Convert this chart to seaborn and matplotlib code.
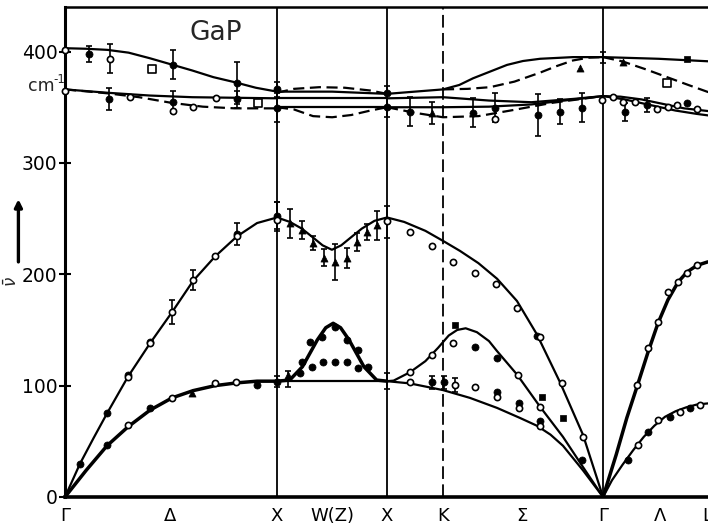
"""
GaP phonon dispersion: theory curves and neutron data along G-X-W-X-K-G-L.
"""

import matplotlib
matplotlib.use("Agg")
import matplotlib.pyplot as plt
import pandas as pd
import seaborn as sns

# --- path / axis labels (k in units of the G-X length) ---
TICK_K = [0.0, 0.495, 1.0, 1.259, 1.519, 1.783, 2.156, 2.538, 2.807, 3.028]
TICK_LABELS = ["Γ", "Δ", "X", "W(Z)", "X", "K", "Σ", "Γ", "Λ", "L"]
VLINE_K = [1.0, 1.519, 1.783, 2.538]
VLINE_DASHED = [False, False, True, False]
Y_TICKS = [0, 100, 200, 300, 400]
Y_LABELS = ["0", "100", "200", "300", "400"]

# --- optical branches ---
LO_GX_K = [0, 0.1, 0.2, 0.3, 0.4, 0.5, 0.6, 0.7, 0.8, 0.9, 1.0]
LO_GX_V = [403, 402.5, 401.5, 399, 394, 388.5, 383, 377, 372.5, 367.5, 364]
TO_GX_K = [0, 0.2, 0.4, 0.6, 0.8, 1.0]
TO_GX_V = [366, 363, 360.5, 359, 358.5, 358]
TOD_GX_K = [0, 0.2, 0.35, 0.5, 0.65, 0.8, 1.0]
TOD_GX_V = [366, 362.5, 359, 354, 350.5, 349, 349]

LO_XW_K = [1.0, 1.26, 1.519]
LO_XW_V = [364, 364, 362]
TO_XW_K = [1.0, 1.519]
TO_XW_V = [358, 358]
TO2_XW_K = [1.0, 1.519]
TO2_XW_V = [350, 350]
DUP_XW_K = [1.0, 1.08, 1.2, 1.32, 1.44, 1.519]
DUP_XW_V = [363, 366.5, 368, 367.5, 365, 362]
DLO_XW_K = [1.0, 1.08, 1.17, 1.26, 1.35, 1.44, 1.519]
DLO_XW_V = [350, 348, 342, 341, 343, 347, 350]

LO_XG_K = [1.519, 1.65, 1.783, 1.86, 1.925, 2.005, 2.085, 2.16, 2.241, 2.396, 2.538]
LO_XG_V = [362, 364, 366, 370, 376, 382, 388, 391.5, 393.5, 395, 395]
LOD_XG_K = [1.783, 1.9, 2.005, 2.12, 2.24, 2.32, 2.396, 2.47, 2.538]
LOD_XG_V = [366, 366.5, 368, 373, 381, 387, 392, 394.5, 395]
TOA_XG_K = [1.519, 1.783, 2.0, 2.2, 2.4, 2.538]
TOA_XG_V = [358, 359, 356, 354.5, 357.5, 360]
TOB_XG_K = [1.519, 1.783, 2.0, 2.2, 2.4, 2.538]
TOB_XG_V = [350, 350, 350.5, 352.5, 357, 360]
TOD_XG_K = [1.519, 1.65, 1.783, 1.95, 2.1, 2.3, 2.538]
TOD_XG_V = [350, 345, 341, 342, 347, 354, 360]

LO_GL_K = [2.538, 2.8, 3.06]
LO_GL_V = [395, 393.5, 391]
LOD_GL_K = [2.538, 2.632, 2.74, 2.84, 2.94, 3.028, 3.06]
LOD_GL_V = [395, 391, 384, 377, 370, 364, 362]
TOA_GL_K = [2.538, 2.62, 2.72, 2.82, 2.92, 3.06]
TOA_GL_V = [360, 359.5, 357, 353, 349, 346]
TOB_GL_K = [2.538, 2.64, 2.76, 2.88, 2.98, 3.06]
TOB_GL_V = [360, 357, 352, 347, 344, 342]

# --- acoustic branches ---
LA_GX_K = [0, 0.071, 0.135, 0.198, 0.297, 0.401, 0.505, 0.604, 0.708, 0.811, 0.906, 1.0]
LA_GX_V = [0, 30, 53, 75, 108, 138, 166, 194, 216, 234, 246, 251]
TA_GX_K = [0, 0.1, 0.198, 0.297, 0.401, 0.505, 0.604, 0.708, 0.811, 0.906, 1.0]
TA_GX_V = [0, 24, 46, 63, 78, 89, 95.5, 100, 102.5, 104, 104]

LA_XW_K = [1.0, 1.061, 1.117, 1.17, 1.215, 1.259, 1.303, 1.348, 1.40, 1.46, 1.519]
LA_XW_V = [251, 247, 241, 233, 226, 222, 226, 233, 241, 248, 251]
BUMP_XW_K = [1.0, 1.06, 1.12, 1.19, 1.23, 1.265, 1.30, 1.34, 1.41, 1.47, 1.519]
BUMP_XW_V = [104, 105, 117, 141, 152, 156, 152, 141, 117, 105, 104]
FLAT_XW_K = [1.0, 1.519]
FLAT_XW_V = [104, 104]

LA_XG_K = [1.519, 1.6, 1.7, 1.783, 1.863, 1.95, 2.038, 2.132, 2.226, 2.335, 2.443, 2.538]
LA_XG_V = [251, 247, 239, 230, 221, 210, 196, 176, 146, 103, 56, 0]
MID_XG_K = [1.519, 1.55, 1.627, 1.70, 1.76, 1.81, 1.85, 1.89, 1.943, 2.0, 2.038,
            2.132, 2.241, 2.349, 2.443, 2.538]
MID_XG_V = [104, 104.5, 112, 122, 134, 145, 150, 151.5, 148, 140, 131,
            110, 81, 54, 27, 0]
TA_XG_K = [1.519, 1.627, 1.783, 1.910, 2.038, 2.146, 2.226, 2.29, 2.349, 2.443, 2.538]
TA_XG_V = [104, 102, 96, 89, 80, 71, 64, 56, 46, 24, 0]

LA_GL_K = [2.538, 2.60, 2.65, 2.698, 2.75, 2.797, 2.844, 2.892, 2.934, 2.981, 3.03, 3.06]
LA_GL_V = [0, 38, 71, 99, 130, 156, 177, 193, 202, 208, 211, 212]
TA_GL_K = [2.538, 2.58, 2.63, 2.68, 2.73, 2.78, 2.83, 2.88, 2.93, 2.98, 3.03, 3.06]
TA_GL_V = [0, 15, 29, 42, 54, 64, 72, 77, 80.5, 83, 84, 84.5]

# --- measured points ---
OPEN_K = [0, 0.212, 0, 0.307, 0.509, 0.604, 0.712,
          0.297, 0.401, 0.505, 0.604, 0.708, 0.811, 1.0,
          0.297, 0.505, 0.708, 0.805, 1.519,
          1.627, 1.731, 1.830, 1.934, 2.033, 2.132, 2.241, 2.344, 2.443,
          1.830, 1.731, 1.627, 2.137, 2.241, 2.241, 1.627,
          1.840, 1.934, 2.038, 2.142,
          2.028, 2.533, 2.585, 2.632, 2.689, 2.792, 2.844, 2.887, 2.981,
          2.698, 2.75, 2.797, 2.844, 2.892, 2.934, 2.981,
          2.703, 2.797, 2.901, 2.995]
OPEN_V = [401, 393.5, 365, 359.4, 347, 350, 358.5,
          108, 138, 166, 195, 216, 234, 249,
          65, 89, 102, 103, 248,
          238, 225, 211, 201, 191, 170, 144, 102, 54,
          138, 127.6, 112, 110, 81, 64, 103.5,
          100.6, 99, 90, 80,
          339, 356.7, 359, 355, 355, 348.6, 350.5, 352, 348,
          100.6, 134, 157, 184, 193, 201, 208.4,
          46.7, 69, 76, 82.6]

FILLED_K = [0.113, 0.509, 0.811, 1.0, 0.208, 0.509, 0.811, 1.0,
            0.071, 0.198, 0.297, 0.401, 0.811, 1.0,
            0.198, 0.401, 0.906, 1.0,
            1.108, 1.165, 1.217, 1.274, 1.330, 1.382,
            1.118, 1.156, 1.212, 1.274, 1.330, 1.382, 1.429,
            1.934, 2.038, 2.241, 1.731, 1.788, 2.038, 2.142, 2.226, 2.439,
            1.627, 1.925, 2.028, 2.231, 2.335, 2.439, 1.519, 1.519,
            2.642, 2.745, 2.934,
            2.656, 2.75, 2.854, 2.948]
FILLED_V = [398, 388, 372, 366, 357.5, 355, 357, 349.5,
            30, 75, 110, 139, 236, 252,
            46.7, 80, 100.6, 103,
            111, 117, 121, 121, 121, 116,
            121, 139, 144, 153, 141, 132, 117,
            135, 125, 68, 103, 103, 94, 84, 145, 33,
            346, 345, 349.5, 343, 346, 349.5, 350, 363,
            346, 352, 354,
            33, 58, 72, 80]

OPEN_SQ_K = [0.41, 0.91, 2.84]
OPEN_SQ_V = [384, 354, 372]
FILLED_SQ_K = [1.840, 2.250, 2.349, 2.934]
FILLED_SQ_V = [154.5, 90, 71, 393.5]
TRI_K = [0.599, 1.052, 1.061, 1.117, 1.170, 1.222, 1.274, 1.33, 1.377,
         1.425, 1.472, 2.429, 2.632, 1.731]
TRI_V = [93.4, 110, 246, 240, 228, 215, 211, 215, 229,
         238, 244, 385, 391, 345]

ERR_K = [0.113, 0.212, 0.509, 0.811, 1.0, 0.208, 0.509, 0.811, 1.0,
         0.505, 0.604, 0.811, 1.0, 1.0, 1.052, 1.519,
         1.0, 1.061, 1.117, 1.170, 1.222, 1.274, 1.33, 1.377, 1.425, 1.472, 1.519,
         1.731, 1.788, 1.840,
         1.519, 1.627, 1.731, 1.925, 2.028, 2.231, 2.335, 2.439, 2.538, 2.642, 2.745]
ERR_V = [398, 393.5, 388, 372, 366, 357.5, 355, 357, 349.5,
         166, 195, 236, 252, 104, 106, 104,
         253, 246, 240, 228, 215, 211, 215, 229, 238, 244, 247,
         103, 103, 100.6,
         355, 346, 345, 345, 349.5, 343, 346, 349.5, 395, 346, 352]
ERR_DV = [7, 13, 13, 19, 7, 10, 10, 8, 13,
          11, 9, 10, 13, 5, 7, 7,
          12, 13, 8, 6, 8, 16, 9, 8, 7, 13, 14,
          6, 6, 6,
          14, 13, 10, 13, 13, 19, 11, 13, 5, 8, 6]

# (k, v, line kind)
RAMAS = [
    (LO_GX_K, LO_GX_V, "solid"), (TO_GX_K, TO_GX_V, "solid"), (TOD_GX_K, TOD_GX_V, "dashed"),
    (LO_XW_K, LO_XW_V, "solid"), (TO_XW_K, TO_XW_V, "solid"), (TO2_XW_K, TO2_XW_V, "solid"),
    (DUP_XW_K, DUP_XW_V, "dashed"), (DLO_XW_K, DLO_XW_V, "dashed"),
    (LO_XG_K, LO_XG_V, "solid"), (LOD_XG_K, LOD_XG_V, "dashed"),
    (TOA_XG_K, TOA_XG_V, "solid"), (TOB_XG_K, TOB_XG_V, "solid"), (TOD_XG_K, TOD_XG_V, "dashed"),
    (LO_GL_K, LO_GL_V, "solid"), (LOD_GL_K, LOD_GL_V, "dashed"),
    (TOA_GL_K, TOA_GL_V, "solid"), (TOB_GL_K, TOB_GL_V, "solid"),
    (LA_GX_K, LA_GX_V, "solid"), (TA_GX_K, TA_GX_V, "thick"),
    (LA_XW_K, LA_XW_V, "solid"), (BUMP_XW_K, BUMP_XW_V, "thick"), (FLAT_XW_K, FLAT_XW_V, "solid"),
    (LA_XG_K, LA_XG_V, "solid"), (MID_XG_K, MID_XG_V, "solid"), (TA_XG_K, TA_XG_V, "solid"),
    (LA_GL_K, LA_GL_V, "thick"), (TA_GL_K, TA_GL_V, "solid"),
]

FUENTE = ["DejaVu Sans Condensed", "DejaVu Sans"]


def dibujar():
    sns.set_theme(style="white")
    plt.rcParams["font.family"] = FUENTE
    plt.rcParams["mathtext.fontset"] = "dejavusans"

    fig = plt.figure(figsize=(7.08, 5.27), dpi=100)
    ax = fig.add_axes([65 / 708, 30 / 527, 647 / 708, 490 / 527])

    # high-symmetry verticals
    for k, dashed in zip(VLINE_K, VLINE_DASHED):
        ax.axvline(k, color="black", lw=1.3,
                   linestyle=(0, (7, 3)) if dashed else "-", zorder=1)

    # theory curves
    estilos = {"solid": ("-", 1.6), "dashed": ((0, (5, 2.5)), 1.6), "thick": ("-", 2.5)}
    for k, v, tipo in RAMAS:
        ls, lw = estilos[tipo]
        d = pd.DataFrame({"k": k, "v": v})
        sns.lineplot(data=d, x="k", y="v", ax=ax, color="black", lw=lw,
                     linestyle=ls, estimator=None, sort=False, legend=False, zorder=2)

    # error bars, then markers
    ax.errorbar(ERR_K, ERR_V, yerr=ERR_DV, fmt="none", ecolor="black",
                elinewidth=1.2, capsize=2.2, capthick=1.2, zorder=3)
    sns.scatterplot(x=FILLED_K, y=FILLED_V, ax=ax, marker="o", s=26,
                    color="black", edgecolor="black", linewidth=0.5, zorder=4, clip_on=False)
    sns.scatterplot(x=OPEN_K, y=OPEN_V, ax=ax, marker="o", s=20,
                    color="white", edgecolor="black", linewidth=1.2, zorder=5, clip_on=False)
    sns.scatterplot(x=OPEN_SQ_K, y=OPEN_SQ_V, ax=ax, marker="s", s=26,
                    color="white", edgecolor="black", linewidth=1.2, zorder=5)
    sns.scatterplot(x=FILLED_SQ_K, y=FILLED_SQ_V, ax=ax, marker="s", s=24,
                    color="black", edgecolor="black", linewidth=0.5, zorder=5)
    sns.scatterplot(x=TRI_K, y=TRI_V, ax=ax, marker="^", s=26,
                    color="black", edgecolor="black", linewidth=0.5, zorder=5)

    ax.set_xlim(0, 647 / 212)
    ax.set_ylim(0, 440)
    ax.set_xlabel("")
    ax.set_ylabel("")

    ax.set_xticks(TICK_K, TICK_LABELS)
    ax.set_yticks(Y_TICKS, Y_LABELS)
    ax.tick_params(axis="x", length=0, pad=7, labelsize=13, colors="black")
    ax.tick_params(axis="y", direction="inout", length=9, width=1.5,
                   pad=1, labelsize=13.5, colors="black", left=True)

    for lado, ancho in {"left": 2.2, "bottom": 2.6, "top": 1.8, "right": 1.8}.items():
        ax.spines[lado].set_color("black")
        ax.spines[lado].set_linewidth(ancho)

    # annotations
    fig.text(0.305, 0.937, "GaP", fontsize=19, ha="center", va="center")
    fig.text(0.040, 0.836, "cm", fontsize=12.5, ha="left", va="center")
    fig.text(0.075, 0.85, "-1", fontsize=8.5, ha="left", va="center")
    fig.text(0.017, 0.465, r"$\bar{\nu}$", fontsize=12, rotation=90,
             ha="center", va="center")
    ax.annotate("", xy=(0.026, 0.622), xytext=(0.026, 0.503),
                xycoords="figure fraction", textcoords="figure fraction",
                arrowprops=dict(arrowstyle="-|>", lw=2.4, color="black",
                                mutation_scale=11, shrinkA=0, shrinkB=0))

    fig.savefig("out.png", dpi=100)
    plt.close(fig)


def main():
    dibujar()


if __name__ == "__main__":
    main()
